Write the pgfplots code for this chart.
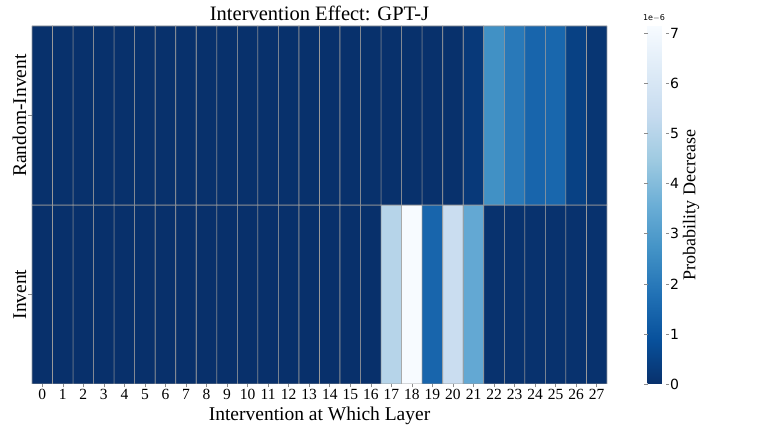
\documentclass[border=0pt]{standalone}
\usepackage{pgfplots}
\pgfplotsset{compat=1.18}
\usepackage{fontspec}
\setmainfont{Liberation Serif}
\newfontfamily\dvs{DejaVu Sans}

% probability decrease, in units of 1e-6; y=0 Invent, y=1 Random-Invent
\pgfplotstableread{
x y c
0 0 0
1 0 0
2 0 0
3 0 0
4 0 0
5 0 0
6 0 0
7 0 0
8 0 0
9 0 0
10 0 0
11 0 0
12 0 0
13 0 0
14 0 0
15 0 0
16 0 0
17 0 5.0
18 0 7.15
19 0 1.45
20 0 5.5
21 0 3.4
22 0 0.05
23 0 0.05
24 0 0.05
25 0 0.05
26 0 0.05
27 0 0.05
0 1 0.02
1 1 0.02
2 1 0.02
3 1 0.02
4 1 0.02
5 1 0.02
6 1 0.02
7 1 0.02
8 1 0.02
9 1 0.02
10 1 0.02
11 1 0.02
12 1 0.02
13 1 0.02
14 1 0.02
15 1 0.02
16 1 0.02
17 1 0.02
18 1 0.02
19 1 0.02
20 1 0.02
21 1 0.25
22 1 2.65
23 1 2.0
24 1 1.45
25 1 1.5
26 1 0.45
27 1 0.15
}\heat

\begin{document}
\begin{tikzpicture}
\path[use as bounding box] (-32pt,-51pt) rectangle (729pt,384pt);
\begin{axis}[
  at={(0,0)}, anchor=south west,
  scale only axis, width=575pt, height=358pt,
  xmin=-0.5, xmax=27.5, ymin=-0.5, ymax=1.5,
  enlargelimits=false,
  axis line style={draw=none},
  xtick={0,...,27}, ytick={0,1},
  yticklabels={Invent,Random-Invent},
  xtick pos=left, ytick pos=left,
  tick align=outside, major tick length=3.5pt,
  tick style={gray!90, line width=0.6pt},
  /pgf/number format/assume math mode=true,
  xticklabel style={font=\fontsize{15.5}{16}\selectfont, inner sep=1.5pt},
  yticklabel style={rotate=90, anchor=south, font=\fontsize{19.5}{20}\selectfont, inner sep=2pt},
  title={Intervention Effect: GPT-J},
  title style={font=\fontsize{20.5}{21}\selectfont, yshift=-4pt},
  xlabel={Intervention at Which Layer},
  xlabel style={font=\fontsize{19.5}{20}\selectfont, inner sep=0pt, yshift=-6pt},
  colormap={bluesr}{rgb255=(8,48,107) rgb255=(8,81,156) rgb255=(33,113,181)
    rgb255=(66,146,198) rgb255=(107,174,214) rgb255=(158,202,225)
    rgb255=(198,219,239) rgb255=(222,235,247) rgb255=(247,251,255)},
  point meta min=0, point meta max=7.15,
  colorbar,
  colorbar style={
    width=18pt,
    at={(parent axis.north east)}, anchor=north west, xshift=32pt,
    axis line style={draw=none},
    ytick={0,...,7},
    yticklabel pos=right,
    tick align=outside, major tick length=3.5pt,
    tick style={gray!90, line width=0.6pt},
    yticklabel style={font=\dvs\fontsize{14}{14}\selectfont, inner sep=1pt},
    /pgf/number format/assume math mode=true,
  },
]
\addplot[matrix plot*, mesh/cols=28, point meta=explicit,
  draw=gray!80, line width=0.6pt] table[x=x, y=y, meta=c] {\heat};
\end{axis}
\node[font=\dvs\fontsize{8}{8}\selectfont, anchor=south] at (622pt,359pt) {1e$-$6};
\node[font=\fontsize{18}{18}\selectfont, rotate=90] at (659pt,179pt) {Probability Decrease};
\end{tikzpicture}
\end{document}
